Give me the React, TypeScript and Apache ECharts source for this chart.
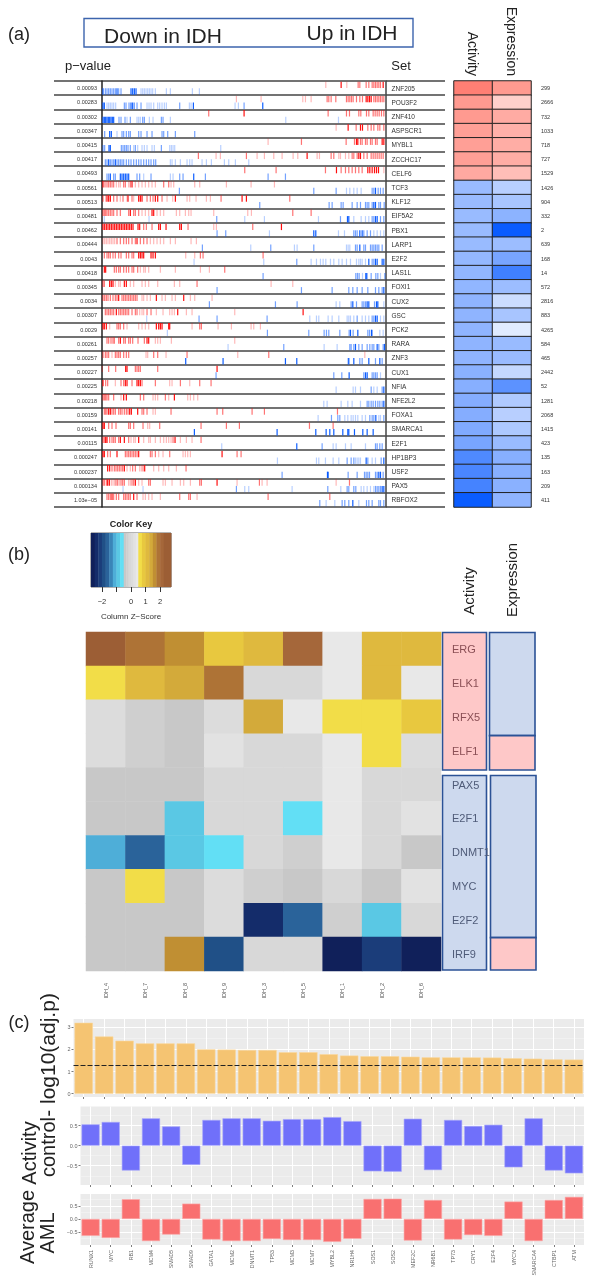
import React, { useEffect, useRef } from "react";
import * as echarts from "echarts";

const FONT = "Liberation Sans";

// ---------- panel (a) ----------
const pValues = ["0.00093","0.00283","0.00302","0.00347","0.00415","0.00417","0.00493","0.00561","0.00513","0.00481","0.00462","0.00444","0.0043","0.00418","0.00345","0.0034","0.00307","0.0029","0.00261","0.00257","0.00227","0.00225","0.00218","0.00159","0.00141","0.00115","0.000247","0.000237","0.000134","1.03e\u221205"];
const setNames = ["ZNF205","POU3F2","ZNF410","ASPSCR1","MYBL1","ZCCHC17","CELF6","TCF3","KLF12","EIF5A2","PBX1","LARP1","E2F2","LAS1L","FOXI1","CUX2","GSC","PCK2","RARA","ZNF3","CUX1","NFIA","NFE2L2","FOXA1","SMARCA1","E2F1","HP1BP3","USF2","PAX5","RBFOX2"];
const setCounts = ["299","2666","732","1033","718","727","1529","1426","904","332","2","639","168","14","572","2816","883","4265","584","465","2442","52","1281","2068","1415","423","135","163","209","411"];
const activityValues = [0.73,0.58,0.58,0.55,0.55,0.55,0.49,-0.40,-0.40,-0.40,-0.40,-0.40,-0.42,-0.43,-0.43,-0.44,-0.44,-0.44,-0.44,-0.44,-0.46,-0.47,-0.48,-0.48,-0.50,-0.53,-0.69,-0.71,-0.73,-0.96];
const expressionValues = [0.58,0.27,0.48,0.45,0.47,0.47,0.37,-0.28,-0.34,-0.45,-0.96,-0.39,-0.53,-0.75,-0.39,-0.20,-0.34,-0.12,-0.40,-0.40,-0.23,-0.64,-0.31,-0.28,-0.32,-0.40,-0.47,-0.47,-0.46,-0.44];

// hits on the ranked gene list, per row: [strong, medium, light]
const upHits: number[][][] = [
  [[722,848],[773,778,797,805,815,820,825,830,835,840],[676,739]],
  [[797,802,807,812],[680,685,692,706,738,743,748,753,758,768,778,786,820,825,830,835,840,845,850],[408,482,607,615,632]],
  [[431],[325,683,738,747,775,781,798,805,818,824,830,836,843,850],[]],
  [[743,780,786],[767,802,812,820,832,838,850],[707]],
  [[768,772,845,850],[603,737,762,780,785,795,800,810,815,825,830],[503]],
  [[620,775,780],[294,438,692,700,755,760,770,790,800,812,818,824,830,836,842,848],[347,360,470,492,520,545,578,592,650,657,715,720,735,745]],
  [[708,802,808,815,822,828,834],[433,527,675,722,735,745,755,765,775,785],[850]],
  [[8,95],[14,20,25,30,35,40,70,75,90,190,205],[48,55,60,85,105,115,125,135,145,155,165,212,220,283,298,378,452,522]],
  [[20,25,30,83,115,120,125,165,172,225,425,438],[8,40,50,68,95,140,150,158,185,362,568],[16,60,80,100,200,217,260,268,287,318,330]],
  [[90,155,160],[8,12,16,20,25,30,35,40,50,60,85,100,105,115,577,632],[125,135,145,170,180,190,228,238,255,265,272,340,442,453]],
  [[8,13,18,23,28,33,38,43,48,53,58,63,68,73,78,83,88,93,98,113,118,175,180,197,238,243,543],[130,138,155,263,457],[340,348]],
  [[110],[50,60,70,78,85,95,105,120,130,140],[8,13,18,23,28,33,38,43,150,160,170,180,190,210,225,272,288]],
  [[115,120,125,130,152,158,165],[12,20,25,30,38,45,55,62,78,85,95,100,300,308,488],[256,283]],
  [[12,16],[42,48,55,60,70,78,85,95,100,112,373],[120,130,135,145,180,225,300,327]],
  [[28,33,38,72,78],[8,12,290],[45,55,60,90,100,125,135,145,172,222,238,512,577]],
  [[55,168,250],[8,13,18,23,30,38,45,50,65,70,75,80,85,90,95,100,105,110],[125,130,140,150,185,195,215,225,270,283,335]],
  [[48,232,608],[15,20,25,30,35,40,55,60,65,70,75,80,85,95,105,110,140,152],[118,125,130,168,188,208,215,222,258,275,403]],
  [[8,12,18,168,175,180,185,205,208],[50,55,60,70,298,303],[28,80,115,125,135,145,275,353,393,452,460,480]],
  [[60,140,145],[20,25,32,38,42,55,70,75,85,90,97,113,132],[165,172,180,213,403]],
  [[],[8,15,20,25,45,50,55,60,70,78,85,160,172,260,505],[35,137,142,197,412,793]],
  [[76,80,350],[25,46,105,110,115,120,172],[6]],
  [[8,75,80,110,115,120],[16,22,62,70,95,125,165,240,298,332],[45,208,215,268]],
  [[70,78,222],[8,12,16,20,25,40,120,130,195],[62,158,165,172,205,262,270,280,292]],
  [[25,30,88,93,112],[12,16,20,35,40,45,55,60,65,72,78,83,125,130,140,212,350,367,455,492,711],[158,165]],
  [[8,12],[25,35,47,85,90,100,128,178,302,378,417,627,698],[142,148]],
  [[20,16,60,72,115,224],[8,12,28,35,40,45,55,85,218,302],[92,100,105,130,145,150,165,180,190,198,205,212,240,258,275]],
  [[8,12,50,115,365],[22,30,75,80,85,90,95,100,105,110,150,155,165,208,410,422],[175,188,248,255,262,270]],
  [[22,28,72,133],[35,42,47,52,57,62,67,97,105,128,257],[80,90,118,123,160,175,190,205,228]],
  [[22,27,105,350],[8,12,18,47,52,62,67,72,95,100,145,150,298,303,477,747],[33,38,43,57,85,90,115,125,188,195,215,240,250,270,410,485,500,707]],
  [[35,100],[20,25,30,40,48,55,70,75,80,85,90,110,238,265,270,503,688],[128,135,145,155,180,290]],
];
const downHits: number[][][] = [
  [[8,50,92,97,102,107],[15,20,25,30,35,40,45,55,62],[122,127,132,137,142,147,152,157,165,198,210,276,297]],
  [[8,12,92,97,279,487],[72,77,86,102,110,122,238,431],[20,25,30,35,40,46,140,146,152,160,172,178,185,192,198,267,272,404,414]],
  [[8,12,16,20,24,28,32,36,40],[56,62,74,90,127,132,183,188],[80,110,115,120,147,158,210,556,714]],
  [[28,33],[13,65,70,78,85,90,115,122,140,155,185,190,202,225,283],[50]],
  [[26,30],[8,13,63,68,73,78,83,90,105,183],[100,112,125,132,140,155,162,208,213,218,223,361]],
  [[25,45],[15,20,30,35,40,50,55,60,65,70,78,85,92,100,108,115,122,130,138,145,152,160,166],[210,215,225,240,260,268,275,305,318,333,372,385,405,445]],
  [[30,60,65,70,75,80,85,280],[20,25,40,45,110,118,152,238,248,315,503,555],[130,210,218]],
  [[825],[237,640,707,815,820,833,840,848],[738,748,760,770,782]],
  [[820,825],[478,686,695,722,728,755,770,780,795,800,805,815,835,840,851],[]],
  [[741,745,825,830],[349,720,815,820,840,850],[12,146,433,492,654,760,782,795,805]],
  [[640,646,778,785],[350,376,760,765,770,790,800,810],[507,714,732,820,830,840,850]],
  [[778],[306,511,640,765,770,790,795,810,815,820,825,830,835,845],[451,582,590,738,743,748]],
  [[805,825,830,845,850],[589,815,820],[281,490,632,648,660,668,676,690,700,715,725,738,750,768,775,780,785,795]],
  [[796,799],[488,766,771,776,812,826,832,853],[786,840]],
  [[850],[350,603,695,745,757,770,785,802,825,835,845],[]],
  [[757,800,805,828,832],[327,525,590,752,768,785,790,795,822],[707,718,850]],
  [[825,830],[296,350,500,770,815,820],[139,628,648,655,683,695,715,740,745,750,760,785,795,805,840,850]],
  [[750,772,813],[501,625,671,678,685,718,746,758,802,807,815],[201,838,848]],
  [[765,830,852],[550,748,752,760,775,785,800,808,815,820,835,848],[383,671,710]],
  [[256,368,555,589,745,760,805,838],[743,778,785,825,845],[]],
  [[746,795,800],[347,700,724,790,815,820,825,830],[840]],
  [[850],[845,812],[707,758,765,780,820,830]],
  [[850],[800,805,812,818,825,832,838,845],[670,680,722,742,755,780]],
  [[826],[693,712,718,808,815,820,850],[653,733,742,752,758,765,772,785,795,835,840]],
  [[282,530,646,677,688,700,727,742,745,762,787,800,818],[],[]],
  [[589],[665,825,830,838,845],[364,698,707,735,752,795]],
  [[850,797],[740,752,760,802,842],[531,648,655,675,698,715,765,770,775,780,815,825]],
  [[681,683,835,840],[545,743,770,792,797,802,807,825,830,848],[]],
  [[845,850],[408,682,740,745,760,766,825,830,835,840],[68,128,433,445,575,721,782,790,800,810,820]],
  [[757],[658,725,733,745,798,805,815,835,840,850],[677,703,775]],
];
const hitStrength = [0.95, 0.55, 0.28];

// ---------- panel (b) ----------
const keyBreaks = [-2.75,-2.5,-2.25,-2,-1.75,-1.5,-1.25,-1,-0.75,-0.5,-0.33,-0.17,0,0.17,0.33,0.5,0.75,1,1.25,1.5,1.75,2,2.25,2.75];
const keyColors = ["#10205a","#142c6a","#1b3d7a","#205087","#2a639a","#3a85b8","#4eaed8","#5ac8e4","#62dff5","#c8c8c8","#cfcfcf","#d8d8d8","#dcdcdc","#e2e2e2","#e8e8e8","#f2dd48","#e8c83f","#dfb93e","#d3aa3a","#c08f33","#ae7336","#a5673a","#9c5e35"];
const heatSamples = ["IDH_4","IDH_7","IDH_8","IDH_9","IDH_3","IDH_5","IDH_1","IDH_2","IDH_6"];
const heatGenes = ["ERG","ELK1","RFX5","ELF1","PAX5","E2F1","DNMT1","MYC","E2F2","IRF9"];
const heatZ = [
  [2.4,1.9,1.6,0.9,1.1,2.1,0.42,1.1,1.1],
  [0.6,1.1,1.35,1.9,-0.08,-0.08,0.42,1.1,0.42],
  [0.08,-0.25,-0.42,0.08,1.35,0.42,0.6,0.6,0.9],
  [0.08,-0.25,-0.42,0.25,-0.08,-0.08,0.42,0.6,0.08],
  [-0.42,-0.42,-0.42,-0.08,-0.08,-0.08,0.42,-0.08,-0.08],
  [-0.42,-0.42,-0.9,-0.08,-0.08,-0.6,0.42,-0.08,0.25],
  [-1.1,-1.6,-0.9,-0.6,-0.08,-0.25,0.42,-0.08,-0.42],
  [-0.42,0.6,-0.42,0.08,-0.25,-0.42,-0.08,-0.42,0.25],
  [-0.42,-0.42,-0.42,0.08,-2.4,-1.6,-0.25,-0.9,-0.08],
  [-0.42,-0.42,1.6,-1.9,-0.08,-0.08,-2.6,-2.1,-2.6],
];
// side blocks: [first row, end row, state] with state 1 = up, 0 = down
const activityUpper = [[0,4,1]];
const activityLower = [[0,6,0]];
const expressionUpper = [[0,3,0],[3,4,1]];
const expressionLower = [[0,5,0],[5,6,1]];

// ---------- panel (c) ----------
const regulators = ["RUNX1","MYC","RB1","MCM4","SMAD5","SMAD9","GATA1","MCM2","DNMT1","TP53","MCM3","MCM7","MYBL2","NR1H4","SOS1","SOS2","MEF2C","NR6B1","TP73","CRY1","E2F4","MYCN","SMARCA4","CTBP1","ATM"];
const logAdjP = [3.2,2.58,2.39,2.27,2.27,2.27,2.0,1.99,1.97,1.97,1.87,1.87,1.78,1.72,1.69,1.69,1.67,1.64,1.64,1.64,1.63,1.6,1.58,1.55,1.54];
const controlActivity = [0.53,0.59,-0.62,0.68,0.48,-0.48,0.64,0.68,0.68,0.62,0.66,0.66,0.71,0.61,-0.64,-0.65,0.67,-0.61,0.64,0.49,0.52,-0.54,0.68,-0.62,-0.69];
const amlActivity = [-0.65,-0.73,0.76,-0.85,-0.6,0.59,-0.79,-0.85,-0.85,-0.77,-0.81,-0.81,-0.88,-0.76,0.77,0.78,-0.83,0.73,-0.79,-0.62,-0.65,0.67,-0.85,0.73,0.85];
const adjPThreshold = 1.3;

function buildOption() {
  const grid: any[] = [];
  const xAxis: any[] = [];
  const yAxis: any[] = [];
  const series: any[] = [];
  const visualMap: any[] = [];
  const box = (left: number, right: number, top: number, bottom: number, extra: any = {}) => {
    grid.push({ left, top, width: right - left, height: bottom - top, containLabel: false, ...extra });
    return grid.length - 1;
  };
  const hiddenValue = (gridIndex: number, min: number, max: number, inverse = false) => ({ type: "value", gridIndex, min, max, inverse, show: false, splitLine: { show: false } });

  // barcode rows
  const rowLine = { show: true, interval: 0, lineStyle: { color: "#444", width: 1.5 } };
  const gBar = box(102, 385.5, 81, 507);
  xAxis.push(hiddenValue(gBar, 5, 855));
  const xBar = xAxis.length - 1;
  yAxis.push({
    type: "category", gridIndex: gBar, data: pValues, inverse: true, position: "left",
    axisLine: { show: true, onZero: false, lineStyle: { color: "#222", width: 1.5 } }, axisTick: { show: false },
    axisLabel: { interval: 0, fontSize: 5.5, color: "#333", margin: 5 }, splitLine: rowLine,
  });
  const yBar = yAxis.length - 1;
  yAxis.push({
    type: "category", gridIndex: gBar, data: setNames, inverse: true, position: "right",
    axisLine: { show: true, onZero: false, lineStyle: { color: "#444", width: 1.5 } }, axisTick: { show: false },
    axisLabel: { interval: 0, fontSize: 6.5, color: "#333", margin: 6 }, splitLine: { show: false },
  });
  for (const [l, r] of [[54, 102], [385.5, 445]]) {
    const g = box(l, r, 81, 507);
    xAxis.push(hiddenValue(g, 0, 1));
    yAxis.push({ type: "category", gridIndex: g, data: setNames, inverse: true, axisLine: { show: false }, axisTick: { show: false }, axisLabel: { show: false }, splitLine: rowLine });
  }
  const hits: number[][] = [];
  const addHits = (rows: number[][][], dir: number) => rows.forEach((levels, row) => levels.forEach((ranks, level) => ranks.forEach((rank) => hits.push([rank, row, dir, hitStrength[level]]))));
  addHits(upHits, 1);
  addHits(downHits, -1);
  series.push({
    type: "custom", xAxisIndex: xBar, yAxisIndex: yBar, data: hits, silent: true, encode: { x: 0, y: 1 },
    renderItem: (_: any, api: any) => {
      const c = api.coord([api.value(0), api.value(1)]);
      const band = api.size([0, 1])[1];
      const up = api.value(2) > 0;
      const a = api.value(3);
      return {
        type: "rect",
        shape: { x: c[0] - 0.6, y: up ? c[1] - band / 2 + 0.7 : c[1] + 0.2, width: 1.2, height: band / 2 - 0.7 },
        style: { fill: up ? `rgba(255,0,0,${a})` : `rgba(0,85,255,${a})` },
      };
    },
  });

  // activity / expression table
  const gTable = box(454, 531, 81, 507);
  xAxis.push({ type: "category", gridIndex: gTable, position: "top", data: ["Activity", "Expression"], axisLine: { show: false }, axisTick: { show: false }, axisLabel: { interval: 0, rotate: 90, fontSize: 14, color: "#222", margin: 5 }, splitLine: { show: false } });
  yAxis.push({ type: "category", gridIndex: gTable, position: "right", inverse: true, data: setCounts, axisLine: { show: false }, axisTick: { show: false }, axisLabel: { interval: 0, fontSize: 5.5, color: "#333", margin: 10 }, splitLine: { show: false } });
  const tableData: number[][] = [];
  activityValues.forEach((v, i) => tableData.push([0, i, v]));
  expressionValues.forEach((v, i) => tableData.push([1, i, v]));
  series.push({ type: "heatmap", xAxisIndex: xAxis.length - 1, yAxisIndex: yAxis.length - 1, data: tableData, silent: true, itemStyle: { borderColor: "#222", borderWidth: 1 } });
  visualMap.push({ type: "continuous", show: false, min: -1, max: 1, dimension: 2, seriesIndex: series.length - 1, inRange: { color: ["#0055ff", "#ffffff", "#ff5040"] } });

  // colour key
  const gKey = box(91, 171, 533, 587, { show: true, borderColor: "#666", borderWidth: 1, backgroundColor: "transparent" });
  xAxis.push({
    type: "value", gridIndex: gKey, min: keyBreaks[0], max: keyBreaks[keyBreaks.length - 1], position: "bottom",
    axisLine: { show: false }, splitLine: { show: false },
    axisTick: { show: true, length: 5, customValues: [-2, -1, 0, 1, 2], lineStyle: { color: "#333" } },
    axisLabel: { customValues: [-2, 0, 1, 2], fontSize: 7.5, color: "#333", margin: 10, formatter: (v: number) => String(v).replace("-", "\u2212") },
  });
  const xKey = xAxis.length - 1;
  yAxis.push(hiddenValue(gKey, 0, 1));
  series.push({
    type: "custom", xAxisIndex: xKey, yAxisIndex: yAxis.length - 1, silent: true, encode: { x: [0, 1], y: 2 },
    data: keyColors.map((_, i) => [keyBreaks[i], keyBreaks[i + 1], 1]),
    renderItem: (p: any, api: any) => {
      const a = api.coord([api.value(0), 1]);
      const b = api.coord([api.value(1), 0]);
      return { type: "rect", shape: { x: a[0], y: a[1], width: b[0] - a[0] + 0.4, height: b[1] - a[1] }, style: { fill: keyColors[p.dataIndex] } };
    },
  });

  // side blocks
  const blockFill = ["#cdd9ee", "#fec8c8"];
  const addBlocks = (l: number, r: number, t: number, b: number, rows: number, blocks: number[][]) => {
    const g = box(l, r, t, b);
    xAxis.push(hiddenValue(g, 0, 1));
    yAxis.push(hiddenValue(g, 0, rows, true));
    series.push({
      type: "custom", xAxisIndex: xAxis.length - 1, yAxisIndex: yAxis.length - 1, data: blocks, silent: true, z: 1, encode: { y: [0, 1] },
      renderItem: (_: any, api: any) => {
        const a = api.coord([0, api.value(0)]);
        const c = api.coord([1, api.value(1)]);
        return { type: "rect", shape: { x: a[0], y: a[1], width: c[0] - a[0], height: c[1] - a[1] }, style: { fill: blockFill[api.value(2)], stroke: "#2b5296", lineWidth: 1.6 } };
      },
    });
  };
  addBlocks(442.5, 486.5, 632.5, 770, 4, activityUpper);
  addBlocks(442.5, 486.5, 775.5, 970, 6, activityLower);
  addBlocks(489.5, 535, 632.5, 770, 4, expressionUpper);
  addBlocks(490.5, 536, 775.5, 970, 6, expressionLower);

  // z-score heat map
  const gHeat = box(86, 441, 632, 971);
  xAxis.push({ type: "category", gridIndex: gHeat, position: "bottom", data: heatSamples, axisLine: { show: false }, axisTick: { show: false }, axisLabel: { interval: 0, rotate: 90, fontSize: 5.5, color: "#555", margin: 12 }, splitLine: { show: false } });
  yAxis.push({
    type: "category", gridIndex: gHeat, position: "right", inverse: true, z: 5, data: heatGenes, axisLine: { show: false }, axisTick: { show: false }, splitLine: { show: false },
    axisLabel: { interval: 0, fontSize: 11, margin: 11, color: (_: any, i: number) => (i < 4 ? "#8a4f55" : "#4f5b78") },
  });
  const heatData: number[][] = [];
  heatZ.forEach((row, r) => row.forEach((z, c) => heatData.push([c, r, z])));
  series.push({ type: "heatmap", xAxisIndex: xAxis.length - 1, yAxisIndex: yAxis.length - 1, data: heatData, silent: true, z: 2 });
  visualMap.push({
    type: "piecewise", show: false, dimension: 2, seriesIndex: series.length - 1,
    pieces: keyColors.map((color, i) => ({ gte: keyBreaks[i], lt: keyBreaks[i + 1], color })),
  });

  // bar panels
  const addBars = (l: number, r: number, t: number, b: number, min: number, max: number, major: number[], minor: number[], values: number[], color: string, border: string, showNames: boolean, line?: number) => {
    const g = box(l, r, t, b, { show: true, backgroundColor: "#ebebeb", borderWidth: 0 });
    xAxis.push({
      type: "category", gridIndex: g, data: regulators, position: "bottom",
      axisLine: { show: false, onZero: false },
      axisTick: { show: true, alignWithLabel: true, interval: 0, length: 2, lineStyle: { color: "#444", width: 0.7 } },
      splitLine: { show: true, interval: 0, alignWithLabel: true, lineStyle: { color: "#fff", width: 1 } },
      axisLabel: { show: showNames, interval: 0, rotate: 90, fontSize: 5.3, color: "#666", margin: 5 },
    });
    const fmt = (v: number) => (major.some((m) => !Number.isInteger(m)) ? v.toFixed(1) : String(v)).replace("-", "\u2212");
    yAxis.push({
      type: "value", gridIndex: g, min, max, position: "left",
      axisLine: { show: false },
      axisTick: { show: true, length: 2, customValues: major, lineStyle: { color: "#444", width: 0.7 } },
      axisLabel: { customValues: major, fontSize: 5.5, color: "#666", margin: 3, formatter: fmt },
      splitLine: { show: true, lineStyle: { color: "#fff", width: 1 } },
    });
    const yIdx = yAxis.length - 1;
    yAxis.push({
      type: "value", gridIndex: g, min, max, position: "left",
      axisLine: { show: false }, axisLabel: { show: false },
      axisTick: { show: false, customValues: minor },
      splitLine: { show: true, lineStyle: { color: "#f6f6f6", width: 0.5 } },
    });
    series.push({
      type: "bar", xAxisIndex: xAxis.length - 1, yAxisIndex: yIdx, data: values, barWidth: "90%", silent: true,
      itemStyle: { color, borderColor: border, borderWidth: 0.6 },
      ...(line === undefined ? {} : {
        markLine: { silent: true, symbol: "none", label: { show: false }, data: [{ yAxis: line }], lineStyle: { color: "#222", type: [5, 2], width: 1 } },
      }),
    });
  };
  addBars(73.5, 584, 1019, 1097, -0.15, 3.37, [0, 1, 2, 3], [0.5, 1.5, 2.5], logAdjP, "#f5c472", "#fad79c", false, adjPThreshold);
  addBars(80.5, 584, 1106.5, 1185, -0.98, 0.975, [-0.5, 0, 0.5], [-0.75, -0.25, 0.25, 0.75], controlActivity, "#7070fa", "#a8a8fb", false);
  addBars(80.5, 584, 1194, 1245, -1, 0.96, [-0.5, 0, 0.5], [-0.75, -0.25, 0.25, 0.75], amlActivity, "#f97070", "#fba8a8", true);

  const txt = (text: string, x: number, y: number, fontSize: number, extra: any = {}, rotation = 0) => ({
    type: "text", x, y, rotation, z: 20, silent: true,
    style: { text, fontSize, fontFamily: FONT, fill: "#222", textAlign: "center", textVerticalAlign: "middle", verticalAlign: "middle", align: "center", ...extra },
  });
  const rot = Math.PI / 2;
  const graphic = [
    { type: "rect", z: 20, silent: true, shape: { x: 84, y: 18.5, width: 329, height: 28.5 }, style: { fill: "none", stroke: "#3c64ad", lineWidth: 1.4 } },
    txt("(a)", 19, 34, 18),
    txt("Down in IDH", 163, 35, 21),
    txt("Up in IDH", 352, 32, 21),
    txt("p\u2212value", 88, 65, 13),
    txt("Set", 401, 65, 13),
    txt("(b)", 19, 554, 18),
    txt("Color Key", 131, 524, 9, { fontWeight: "bold" }),
    txt("Column Z\u2212Score", 131, 616, 8, { fill: "#333" }),
    txt("Activity", 468, 591, 15, {}, rot),
    txt("Expression", 511, 580, 15, {}, rot),
    txt("(c)", 19, 1022, 18),
    txt("- log10(adj.p)", 47, 1055, 21, {}, rot),
    txt("Activity", 29, 1153, 20, {}, rot),
    txt("control", 48, 1147, 20, {}, rot),
    txt("Average", 27, 1227, 20, {}, rot),
    txt("AML", 47, 1233, 20, {}, rot),
  ];

  return { animation: false, backgroundColor: "#ffffff", textStyle: { fontFamily: FONT }, tooltip: { show: false }, grid, xAxis, yAxis, series, visualMap, graphic };
}

export default function App() {
  const ref = useRef<HTMLDivElement>(null);
  useEffect(() => {
    const chart = echarts.init(ref.current!, undefined, { renderer: "svg" });
    chart.setOption(buildOption() as any);
    return () => chart.dispose();
  }, []);
  return <div ref={ref} style={{ position: "absolute", left: 0, top: 0, width: 589, height: 1279, filter: "blur(0.4px)" }} />;
}
